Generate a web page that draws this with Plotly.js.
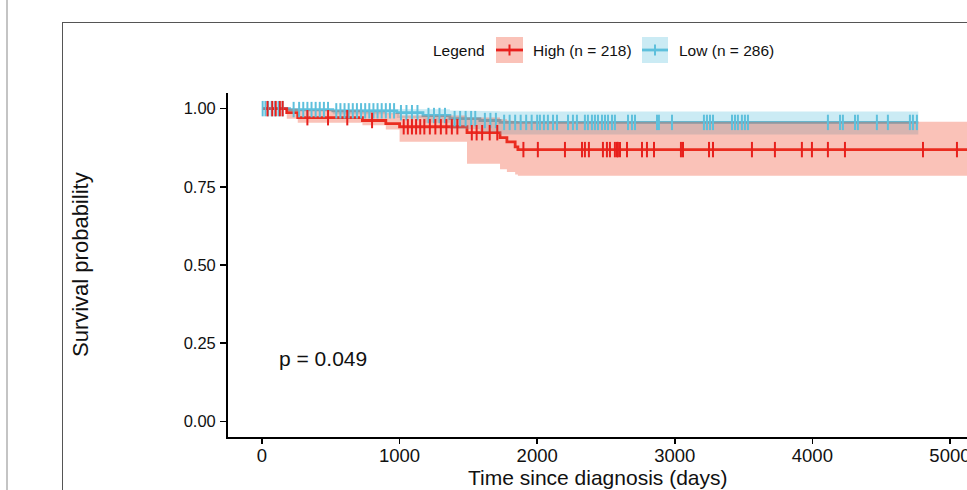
<!DOCTYPE html>
<html>
<head>
<meta charset="utf-8">
<script src="https://cdn.plot.ly/plotly-3.0.1.min.js"></script>
<style>
  html, body { margin: 0; padding: 0; width: 967px; height: 490px; overflow: hidden; background: #fff; }
  #chart { position: absolute; left: 0; top: 0; width: 967px; height: 490px; }
  #frame { position: absolute; left: 62px; top: 22px; width: 1100px; height: 1000px; border: 1.6px solid #555; pointer-events: none; }
  #edge { position: absolute; left: 6px; top: 0; width: 2px; height: 490px; background: #c4c4c4; pointer-events: none; }
</style>
</head>
<body>
<div id="chart"></div>
<div id="frame"></div>
<div id="edge"></div>
<script>
// ---------- data ----------
const groupNames = ["High (n = 218)", "Low (n = 286)"];

// High group Kaplan-Meier steps
const highTime  = [0, 180, 260, 730, 900, 1000, 1490, 1730, 1780, 1840, 1860, 5300];
const highSurv  = [1.0, 0.987, 0.971, 0.962, 0.952, 0.942, 0.923, 0.907, 0.894, 0.878, 0.869, 0.869];
const highLower = [1.0, 0.968, 0.955, 0.947, 0.933, 0.894, 0.824, 0.806, 0.797, 0.789, 0.785, 0.785];
const highUpper = [1.0, 1.0, 0.995, 0.99, 0.985, 0.978, 0.972, 0.966, 0.962, 0.96, 0.958, 0.958];
const highCensor = [40, 75, 100, 130, 150, 330, 480, 620, 800, 1030, 1060, 1090, 1120, 1150, 1180, 1220,
  1260, 1300, 1340, 1380, 1420, 1525, 1560, 1600, 1655, 1710, 1900, 2005, 2202, 2326, 2347, 2376, 2478,
  2507, 2529, 2565, 2580, 2587, 2602, 2653, 2762, 2798, 2849, 3045, 3060, 3249, 3278, 3561, 3728, 3924,
  3997, 4113, 4237, 4804, 5051];

// Low group Kaplan-Meier steps
const lowTime  = [0, 200, 515, 980, 1170, 1366, 1584, 1730, 4770];
const lowSurv  = [1.0, 0.997, 0.993, 0.987, 0.978, 0.968, 0.962, 0.956, 0.956];
const lowLower = [1.0, 0.99, 0.982, 0.97, 0.955, 0.935, 0.925, 0.917, 0.917];
const lowUpper = [1.0, 1.0, 1.0, 1.0, 0.998, 0.994, 0.992, 0.991, 0.991];
const lowCensor = [5, 25, 45, 70, 95, 120, 150, 230, 270, 300, 330, 360, 390, 420, 450, 480, 540, 570, 600,
  630, 660, 690, 720, 750, 780, 810, 840, 870, 900, 930, 960, 1010, 1050, 1090, 1130, 1210, 1250, 1290,
  1330, 1400, 1440, 1480, 1520, 1550, 1620, 1660, 1700, 1760, 1800, 1840, 1880, 1920, 1960, 2000, 2020,
  2049, 2078, 2115, 2144, 2224, 2260, 2289, 2347, 2369, 2398, 2420, 2442, 2471, 2493, 2515, 2544, 2565,
  2660, 2689, 2711, 2871, 2885, 2980, 3212, 3234, 3256, 3278, 3416, 3438, 3459, 3488, 3510, 3532, 4113,
  4201, 4222, 4310, 4331, 4469, 4549, 4709, 4731, 4760];

const xTicks = [0, 1000, 2000, 3000, 4000, 5000];
const yTicks = [0, 0.25, 0.5, 0.75, 1.0];
const yTickText = ["0.00", "0.25", "0.50", "0.75", "1.00"];
const pText = "p = 0.049";
const legendTitle = "Legend";
const xTitle = "Time since diagnosis (days)";
const yTitle = "Survival probability";

// ---------- styles ----------
const FONT = "Liberation Sans, Arial, Helvetica, sans-serif";
const redLine = "#E8201C", redFill = "rgba(240,70,40,0.33)";
const blueLine = "#5EC0DC", blueFill = "rgba(94,192,220,0.32)";

// plot area geometry (px)
const W = 967, H = 490;
const M = {l: 228, r: 0, t: 93, b: 53};
const PW = W - M.l - M.r, PH = H - M.t - M.b;
const px2x = p => (p - M.l) / PW;
const px2y = p => (H - M.b - p) / PH;

// ---------- helpers ----------
function stepPts(t, v) {
  const xs = [], ys = [];
  for (let i = 0; i < t.length; i++) {
    xs.push(t[i]); ys.push(v[i]);
    if (i < t.length - 1) { xs.push(t[i + 1]); ys.push(v[i]); }
  }
  return {xs, ys};
}
function ribbon(t, lo, up, color) {
  const u = stepPts(t, up), l = stepPts(t, lo);
  return {
    x: u.xs.concat(l.xs.slice().reverse()),
    y: u.ys.concat(l.ys.slice().reverse()),
    type: "scatter", mode: "lines", fill: "toself", fillcolor: color,
    line: {width: 0, color: color}, hoverinfo: "skip", showlegend: false
  };
}
function survAt(t, s, x) {
  let v = s[0];
  for (let i = 0; i < t.length; i++) if (t[i] <= x) v = s[i];
  return v;
}
function curve(t, s, color) {
  return {x: t, y: s, type: "scatter", mode: "lines", line: {shape: "hv", width: 2.8, color: color},
          showlegend: false};
}
function censor(times, t, s, color) {
  return {x: times, y: times.map(c => survAt(t, s, c)), type: "scatter", mode: "markers",
          marker: {symbol: "line-ns", size: 11, color: color, line: {width: 2, color: color}},
          showlegend: false};
}

const traces = [
  curve(lowTime, lowSurv, blueLine),
  curve(highTime, highSurv, redLine),
  ribbon(lowTime, lowLower, lowUpper, blueFill),
  ribbon(highTime, highLower, highUpper, redFill),
  censor(lowCensor, lowTime, lowSurv, blueLine),
  censor(highCensor, highTime, highSurv, redLine)
];

// ---------- custom legend ----------
const legY = 50;
const keys = [
  {x0: 496, x1: 523, fill: redFill, line: redLine, label: groupNames[0], tx: 531},
  {x0: 642, x1: 668, fill: blueFill, line: blueLine, label: groupNames[1], tx: 677}
];
const shapes = [];
const annotations = [];
keys.forEach(k => {
  shapes.push({type: "rect", xref: "paper", yref: "paper", x0: px2x(k.x0), x1: px2x(k.x1),
               y0: px2y(63), y1: px2y(37), fillcolor: k.fill, line: {width: 0}});
  shapes.push({type: "line", xref: "paper", yref: "paper", x0: px2x(k.x0), x1: px2x(k.x1),
               y0: px2y(legY), y1: px2y(legY), line: {color: k.line, width: 2.8}});
  const cx = (k.x0 + k.x1) / 2;
  shapes.push({type: "line", xref: "paper", yref: "paper", x0: px2x(cx), x1: px2x(cx),
               y0: px2y(44.5), y1: px2y(55.5), line: {color: k.line, width: 2}});
  annotations.push({xref: "paper", yref: "paper", x: px2x(k.tx), y: px2y(legY), xanchor: "left",
                    yanchor: "middle", text: k.label, showarrow: false,
                    font: {family: FONT, size: 15.5, color: "#111"}});
});
annotations.push({xref: "paper", yref: "paper", x: px2x(431), y: px2y(legY), xanchor: "left",
                  yanchor: "middle", text: legendTitle, showarrow: false,
                  font: {family: FONT, size: 15.5, color: "#111"}});
// axis titles
annotations.push({xref: "paper", yref: "paper", x: 0.5, y: px2y(477), xanchor: "center", yanchor: "middle",
                  text: xTitle, showarrow: false, font: {family: FONT, size: 21, color: "#111"}});
annotations.push({xref: "paper", yref: "paper", x: px2x(80), y: 0.5, xanchor: "center", yanchor: "middle",
                  text: yTitle, textangle: -90, showarrow: false, font: {family: FONT, size: 22, color: "#111"}});
// p-value
annotations.push({xref: "x", yref: "y", x: 108, y: 0.2, xanchor: "left", yanchor: "middle",
                  text: pText, showarrow: false, font: {family: FONT, size: 21, color: "#111"}});

const layout = {
  width: W, height: H,
  margin: M,
  paper_bgcolor: "rgba(0,0,0,0)", plot_bgcolor: "rgba(0,0,0,0)",
  showlegend: false,
  font: {family: FONT, color: "#111"},
  xaxis: {
    range: [-247, 5124], tickvals: xTicks, ticktext: xTicks.map(String),
    ticks: "outside", ticklen: 5, tickwidth: 1.6, tickcolor: "#000",
    showline: true, linecolor: "#000", linewidth: 2.4, showgrid: false, zeroline: false,
    tickfont: {family: FONT, size: 18.5, color: "#111"}, ticklabelstandoff: -5,
    ticklabeloverflow: "allow", fixedrange: true
  },
  yaxis: {
    range: [-0.05, 1.05], tickvals: yTicks, ticktext: yTickText,
    ticks: "outside", ticklen: 5.5, tickwidth: 1.6, tickcolor: "#000",
    showline: true, linecolor: "#000", linewidth: 2.4, showgrid: false, zeroline: false,
    tickfont: {family: FONT, size: 16.5, color: "#111"}, ticklabelstandoff: 1, fixedrange: true
  },
  shapes: shapes,
  annotations: annotations
};

Plotly.newPlot("chart", traces, layout, {staticPlot: true, displayModeBar: false});
</script>
</body>
</html>
